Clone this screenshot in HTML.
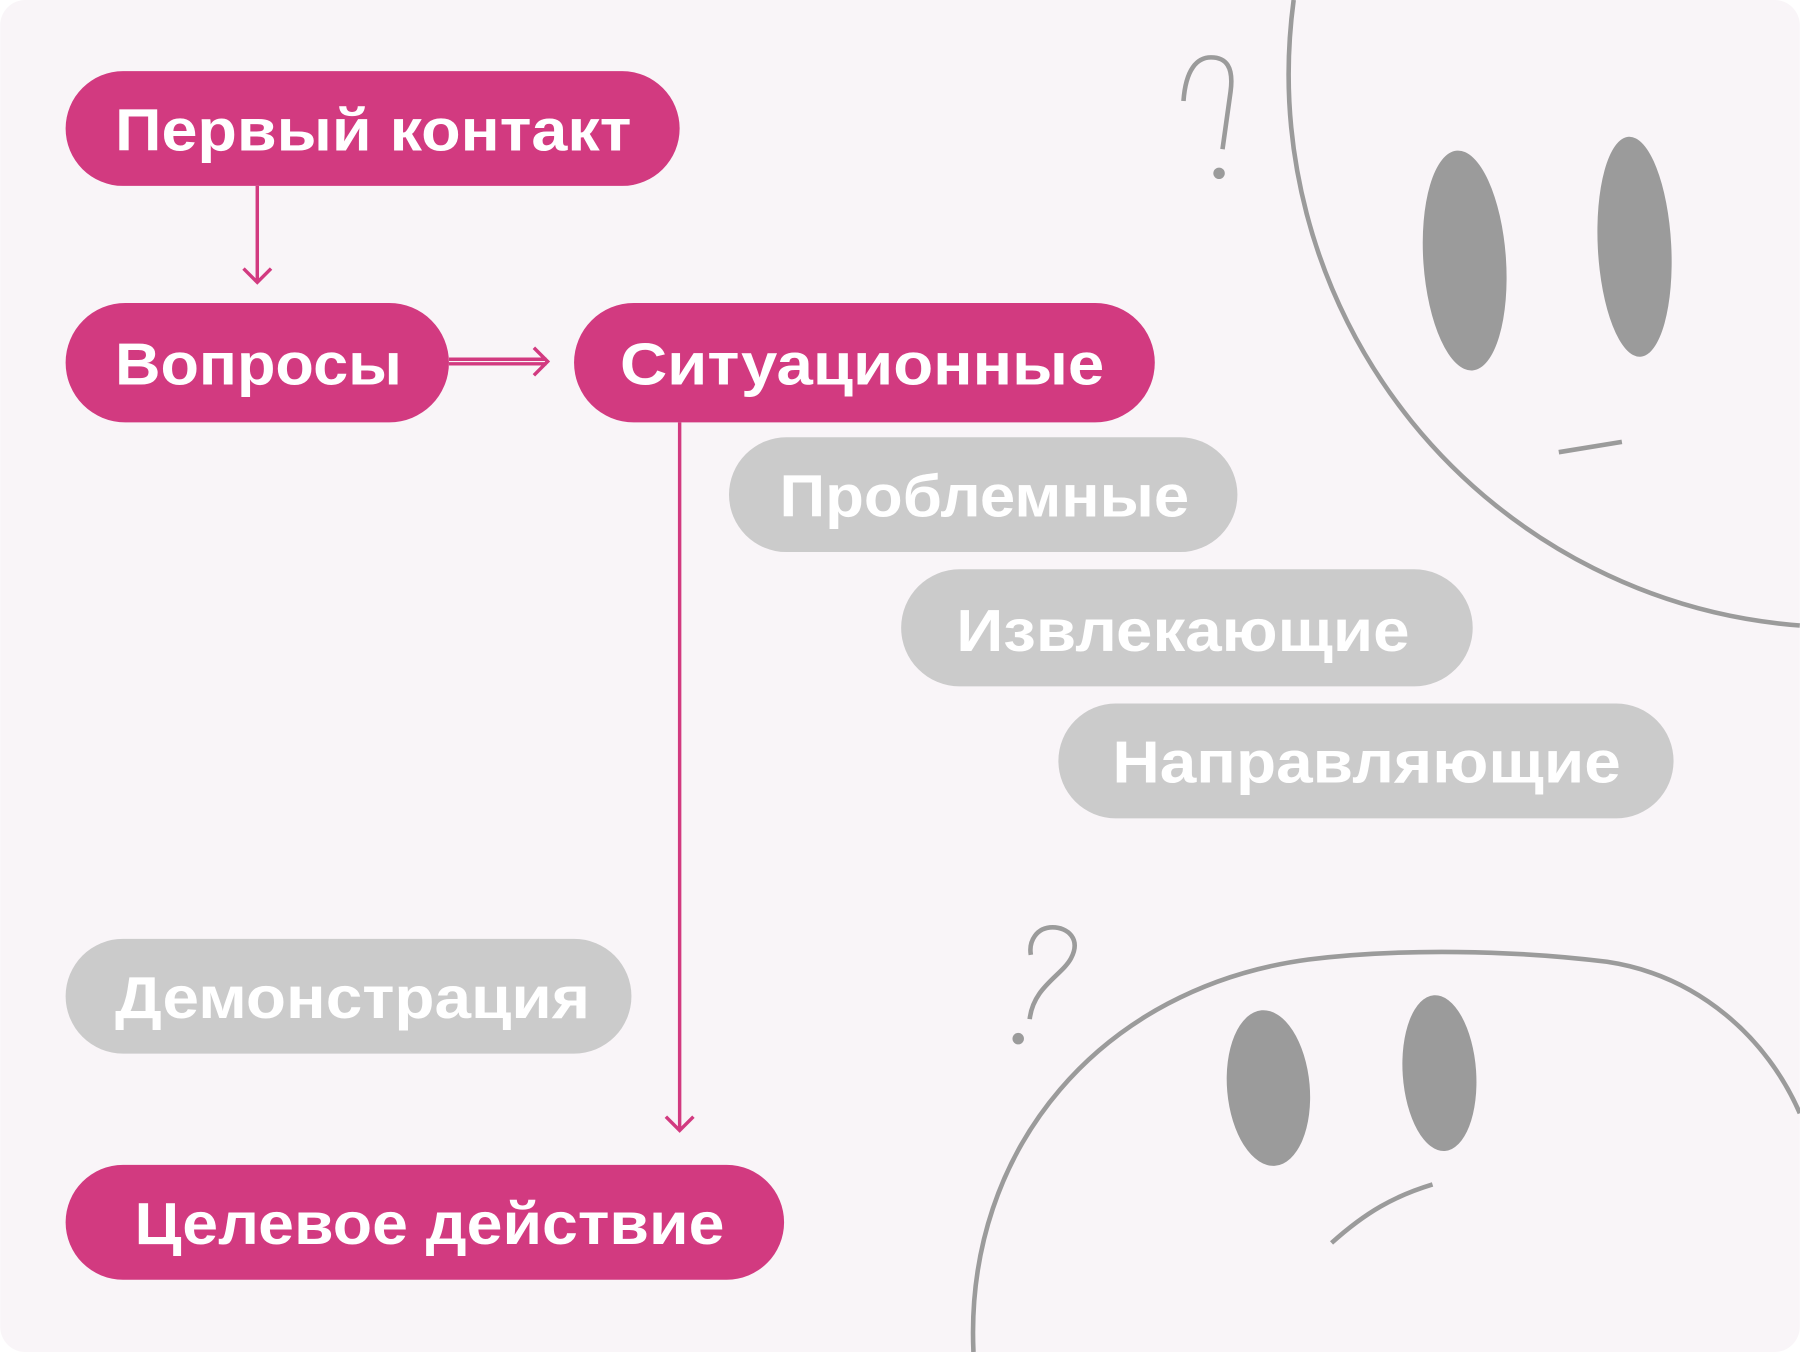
<!DOCTYPE html>
<html><head><meta charset="utf-8"><style>
html,body{margin:0;padding:0;background:#fff;}
svg{display:block;}
text{font-family:"Liberation Sans","DejaVu Sans",sans-serif;font-weight:bold;fill:#fff;font-size:52px;}
</style></head><body>
<svg width="1800" height="1352" viewBox="0 0 1568 1178" xmlns="http://www.w3.org/2000/svg">
<rect x="0" y="0" width="1568" height="1178" rx="22" fill="#f9f5f8"/>
<g fill="none" stroke="#9b9b9b" stroke-width="4" stroke-linecap="butt">
<path d="M1127,0 A482,482 0 0,0 1568,545"/>
<line x1="1358" y1="394" x2="1413" y2="385"/>
<path d="M1031,88 C1033,60 1043,50 1055,50 C1068,50 1075,58 1072,80 L1065,130"/>
<path d="M848,1178 C840,1000 960,860 1140,836 C1220,826 1320,828 1400,838 C1480,850 1540,905 1568,970"/>
<path d="M1160,1083 C1190,1056 1215,1042 1248,1032"/>
<path d="M897,888 C900,860 925,850 933,835 C942,818 930,808 917,808 C903,808 896,820 898,832"/>
</g>
<g fill="#9b9b9b">
<circle cx="1062" cy="151" r="5"/>
<circle cx="887" cy="905" r="5"/>
<ellipse cx="1276" cy="227" rx="36" ry="96" transform="rotate(-4 1276 227)"/>
<ellipse cx="1424" cy="215" rx="32" ry="96" transform="rotate(-3 1424 215)"/>
<ellipse cx="1105" cy="948" rx="36" ry="68" transform="rotate(-5 1105 948)"/>
<ellipse cx="1254" cy="935" rx="32" ry="68" transform="rotate(-4 1254 935)"/>
</g>
<g fill="none" stroke="#d23a80" stroke-width="3">
<line x1="224" y1="162" x2="224" y2="246"/>
<path d="M212,234 L224,246 L236,234"/>
<line x1="391" y1="313" x2="476" y2="313"/>
<line x1="391" y1="317" x2="476" y2="317"/>
<path d="M465,303 L477,315 L465,327"/>
<line x1="592" y1="368" x2="592" y2="985"/>
<path d="M580,973 L592,985 L604,973"/>
</g>
<g fill="#d23a80">
<rect x="57" y="62" width="535" height="100" rx="50"/>
<rect x="57" y="264" width="334" height="104" rx="52"/>
<rect x="500" y="264" width="506" height="104" rx="52"/>
<rect x="57" y="1015" width="626" height="100" rx="50"/>
</g>
<g fill="#cbcbcb">
<rect x="635" y="381" width="443" height="100" rx="50"/>
<rect x="785" y="496" width="498" height="102" rx="51"/>
<rect x="922" y="613" width="536" height="100" rx="50"/>
<rect x="57" y="818" width="493" height="100" rx="50"/>
</g>
<text x="100" y="131" textLength="450" lengthAdjust="spacingAndGlyphs">Первый контакт</text>
<text x="100" y="335" textLength="250" lengthAdjust="spacingAndGlyphs">Вопросы</text>
<text x="540" y="335" textLength="422" lengthAdjust="spacingAndGlyphs">Ситуационные</text>
<text x="679" y="450" textLength="357" lengthAdjust="spacingAndGlyphs">Проблемные</text>
<text x="833" y="567" textLength="395" lengthAdjust="spacingAndGlyphs">Извлекающие</text>
<text x="969" y="682" textLength="443" lengthAdjust="spacingAndGlyphs">Направляющие</text>
<text x="100" y="887" textLength="414" lengthAdjust="spacingAndGlyphs">Демонстрация</text>
<text x="117" y="1084" textLength="514" lengthAdjust="spacingAndGlyphs">Целевое действие</text>
</svg>
</body></html>
